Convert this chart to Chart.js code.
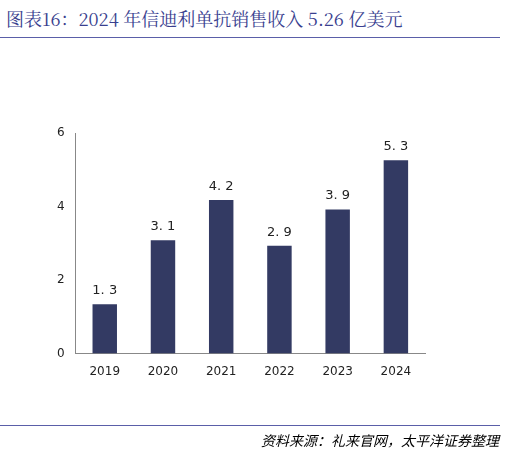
<!DOCTYPE html>
<html><head><meta charset="utf-8">
<script src="https://cdn.jsdelivr.net/npm/chart.js@4"></script>
<style>
body{margin:0;width:507px;height:453px;background:#fff;position:relative;overflow:hidden}
#title{position:absolute;left:6px;top:5px;font-family:"Noto Serif CJK SC","Noto Sans CJK SC",serif;font-size:18px;color:#3a3f8f}
#tl{position:absolute;left:0;top:37px;width:500px;border-top:1px solid #5a5ea8}
#bl{position:absolute;left:0;top:425px;width:500px;border-top:1px solid #5a5ea8}
#src{position:absolute;right:8px;top:430px;font-family:"Noto Sans CJK SC",sans-serif;font-size:14px;font-style:italic;color:#000}
canvas{position:absolute;left:0;top:0}
</style></head><body>
<div id="title">图表16：2024 年信迪利单抗销售收入 5.26 亿美元</div>
<div id="tl"></div>
<canvas id="c" width="507" height="453"></canvas>
<div id="bl"></div>
<div id="src">资料来源：礼来官网，太平洋证券整理</div>
<script>
const years = ["2019", "2020", "2021", "2022", "2023", "2024"];
const revenue = [1.34, 3.08, 4.18, 2.93, 3.92, 5.26];
const labels = ["1. 3", "3. 1", "4. 2", "2. 9", "3. 9", "5. 3"];

const barLabels = {
  id: "barLabels",
  afterDatasetsDraw(chart) {
    const ctx = chart.ctx;
    ctx.save();
    ctx.font = "13px 'DejaVu Sans', sans-serif";
    ctx.fillStyle = "#222";
    ctx.textAlign = "center";
    chart.getDatasetMeta(0).data.forEach((bar, i) => {
      ctx.fillText(labels[i], bar.x, bar.y - 10);
    });
    ctx.restore();
  }
};

new Chart(document.getElementById("c"), {
  type: "bar",
  data: {
    labels: years,
    datasets: [{ data: revenue, backgroundColor: "#333a63", categoryPercentage: 0.42, barPercentage: 1 }]
  },
  plugins: [barLabels],
  options: {
    responsive: false,
    animation: false,
    layout: { padding: { left: 54, right: 82, top: 133, bottom: 71 } },
    plugins: { legend: { display: false }, tooltip: { enabled: false } },
    scales: {
      x: {
        grid: { display: false, drawTicks: true },
        border: { color: "#888" },
        ticks: { color: "#222", font: { size: 12, family: "'DejaVu Sans', sans-serif" } }
      },
      y: {
        min: 0, max: 6,
        grid: { display: false },
        border: { color: "#888" },
        ticks: { stepSize: 2, color: "#222", font: { size: 12, family: "'DejaVu Sans', sans-serif" } }
      }
    }
  }
});
</script>
</body></html>
